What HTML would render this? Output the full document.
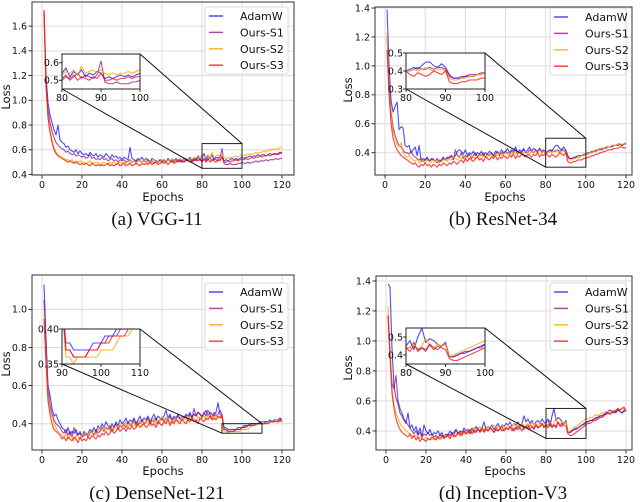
<!DOCTYPE html>
<html><head><meta charset="utf-8">
<style>
html,body{margin:0;padding:0;background:#fff;}
svg{display:block;}
text{font-family:"DejaVu Sans","Liberation Sans",sans-serif;}
.cap{font-family:"Liberation Serif","DejaVu Serif",serif;font-size:19px;}
</style></head>
<body>
<svg id="fig" width="640" height="502" viewBox="0 0 640 502" xmlns="http://www.w3.org/2000/svg"></svg>
<script>
// ---------- data (epochs 1..120) ----------
const epochs = Array.from({length:120},(_,i)=>i+1);
const seriesNames = ["AdamW","Ours-S1","Ours-S2","Ours-S3"];
const xTicks = [0,20,40,60,80,100,120];

const vggAdamW = [1.72,1.20,0.98,0.88,0.82,0.76,0.72,0.80,0.68,0.66,0.65,0.62,0.63,0.60,0.59,0.58,0.60,0.57,0.59,0.57,0.56,0.57,0.55,0.58,0.56,0.55,0.57,0.54,0.56,0.55,0.54,0.57,0.55,0.53,0.56,0.54,0.55,0.53,0.54,0.52,0.54,0.53,0.52,0.62,0.53,0.52,0.51,0.53,0.52,0.54,0.51,0.53,0.52,0.50,0.53,0.52,0.51,0.50,0.52,0.51,0.52,0.50,0.53,0.51,0.52,0.50,0.53,0.51,0.52,0.50,0.53,0.51,0.52,0.54,0.51,0.53,0.52,0.55,0.52,0.54,0.57,0.52,0.55,0.53,0.56,0.52,0.54,0.53,0.55,0.54,0.51,0.52,0.51,0.52,0.53,0.52,0.53,0.52,0.53,0.54,0.53,0.54,0.54,0.55,0.54,0.55,0.55,0.56,0.55,0.56,0.56,0.55,0.56,0.57,0.56,0.57,0.56,0.57,0.58,0.57];
const vggS1 = [1.70,1.15,0.92,0.82,0.75,0.70,0.66,0.64,0.62,0.61,0.60,0.58,0.59,0.57,0.56,0.57,0.55,0.56,0.55,0.54,0.55,0.53,0.54,0.56,0.53,0.54,0.52,0.53,0.52,0.54,0.52,0.53,0.51,0.52,0.53,0.51,0.52,0.50,0.52,0.51,0.52,0.50,0.51,0.52,0.50,0.51,0.50,0.52,0.51,0.50,0.51,0.50,0.52,0.50,0.51,0.49,0.51,0.50,0.52,0.50,0.51,0.50,0.52,0.51,0.50,0.52,0.51,0.50,0.52,0.51,0.50,0.52,0.51,0.53,0.50,0.52,0.51,0.53,0.52,0.51,0.53,0.50,0.52,0.54,0.51,0.53,0.52,0.51,0.53,0.61,0.49,0.48,0.48,0.49,0.48,0.48,0.48,0.49,0.49,0.50,0.49,0.49,0.50,0.49,0.50,0.50,0.51,0.50,0.51,0.51,0.51,0.52,0.51,0.52,0.52,0.52,0.53,0.52,0.53,0.53];
const vggS2 = [1.68,1.10,0.88,0.76,0.68,0.62,0.58,0.56,0.55,0.54,0.53,0.52,0.52,0.51,0.52,0.50,0.51,0.50,0.51,0.50,0.50,0.49,0.50,0.51,0.49,0.50,0.49,0.50,0.48,0.49,0.50,0.49,0.48,0.50,0.49,0.50,0.48,0.49,0.50,0.49,0.50,0.49,0.51,0.49,0.50,0.51,0.49,0.50,0.52,0.50,0.51,0.50,0.49,0.51,0.50,0.52,0.50,0.51,0.50,0.52,0.51,0.50,0.52,0.51,0.53,0.50,0.52,0.51,0.53,0.52,0.52,0.53,0.51,0.53,0.52,0.54,0.53,0.52,0.55,0.53,0.55,0.54,0.56,0.53,0.58,0.54,0.55,0.56,0.54,0.56,0.54,0.53,0.54,0.53,0.54,0.54,0.55,0.54,0.55,0.56,0.55,0.56,0.56,0.57,0.56,0.57,0.58,0.57,0.58,0.58,0.59,0.58,0.60,0.59,0.61,0.60,0.61,0.60,0.62,0.62];
const vggS3 = [1.73,1.12,0.86,0.74,0.66,0.60,0.57,0.55,0.54,0.53,0.52,0.51,0.50,0.51,0.50,0.49,0.50,0.49,0.48,0.49,0.48,0.49,0.48,0.47,0.49,0.48,0.47,0.48,0.47,0.48,0.47,0.48,0.49,0.47,0.48,0.47,0.48,0.49,0.47,0.48,0.49,0.47,0.48,0.49,0.47,0.48,0.49,0.48,0.47,0.49,0.48,0.49,0.48,0.50,0.48,0.49,0.50,0.48,0.49,0.50,0.49,0.50,0.48,0.50,0.51,0.49,0.50,0.52,0.50,0.51,0.50,0.52,0.51,0.50,0.52,0.51,0.53,0.51,0.52,0.50,0.52,0.51,0.53,0.50,0.52,0.51,0.50,0.52,0.51,0.54,0.50,0.50,0.51,0.50,0.51,0.51,0.52,0.51,0.52,0.52,0.52,0.53,0.52,0.53,0.54,0.53,0.54,0.54,0.55,0.54,0.55,0.55,0.56,0.55,0.56,0.56,0.57,0.56,0.57,0.58];

const resAdamW = [1.39,1.00,0.76,0.68,0.72,0.75,0.56,0.58,0.57,0.45,0.44,0.45,0.40,0.42,0.44,0.38,0.45,0.34,0.36,0.35,0.37,0.34,0.36,0.35,0.34,0.36,0.33,0.35,0.37,0.35,0.36,0.37,0.38,0.36,0.38,0.41,0.42,0.41,0.39,0.42,0.38,0.40,0.39,0.41,0.38,0.40,0.39,0.41,0.38,0.40,0.39,0.41,0.40,0.38,0.41,0.40,0.39,0.42,0.40,0.41,0.43,0.40,0.42,0.41,0.44,0.40,0.42,0.41,0.43,0.40,0.42,0.44,0.41,0.43,0.42,0.40,0.43,0.41,0.42,0.40,0.41,0.42,0.41,0.43,0.45,0.45,0.43,0.42,0.44,0.42,0.38,0.36,0.36,0.36,0.37,0.37,0.37,0.38,0.38,0.39,0.39,0.40,0.40,0.41,0.41,0.42,0.42,0.42,0.43,0.43,0.44,0.44,0.44,0.45,0.45,0.45,0.46,0.45,0.46,0.46];
const resS1 = [1.20,0.88,0.68,0.58,0.52,0.48,0.45,0.44,0.42,0.40,0.40,0.39,0.41,0.38,0.37,0.36,0.35,0.36,0.34,0.35,0.36,0.34,0.35,0.36,0.34,0.33,0.35,0.34,0.36,0.35,0.37,0.36,0.38,0.35,0.42,0.38,0.37,0.40,0.36,0.38,0.37,0.39,0.36,0.38,0.40,0.37,0.39,0.38,0.40,0.37,0.39,0.38,0.40,0.37,0.39,0.41,0.38,0.40,0.39,0.41,0.40,0.39,0.41,0.40,0.42,0.39,0.41,0.40,0.42,0.41,0.40,0.42,0.41,0.40,0.42,0.41,0.43,0.40,0.41,0.40,0.40,0.41,0.42,0.41,0.41,0.42,0.41,0.42,0.42,0.41,0.37,0.36,0.36,0.37,0.37,0.38,0.38,0.38,0.39,0.39,0.40,0.40,0.41,0.41,0.42,0.42,0.43,0.43,0.43,0.44,0.44,0.44,0.45,0.45,0.45,0.46,0.46,0.45,0.46,0.47];
const resS2 = [1.23,0.85,0.65,0.55,0.50,0.46,0.44,0.47,0.40,0.38,0.37,0.38,0.36,0.35,0.34,0.36,0.33,0.35,0.34,0.33,0.35,0.34,0.33,0.35,0.34,0.35,0.33,0.34,0.35,0.36,0.34,0.36,0.35,0.37,0.36,0.35,0.37,0.36,0.38,0.36,0.37,0.36,0.38,0.37,0.36,0.38,0.37,0.39,0.37,0.38,0.37,0.39,0.38,0.37,0.39,0.38,0.40,0.38,0.39,0.40,0.39,0.40,0.38,0.41,0.39,0.40,0.41,0.39,0.40,0.41,0.40,0.39,0.41,0.40,0.41,0.40,0.42,0.40,0.41,0.40,0.40,0.41,0.40,0.41,0.42,0.41,0.40,0.41,0.41,0.40,0.36,0.35,0.35,0.36,0.36,0.37,0.37,0.38,0.38,0.39,0.39,0.40,0.40,0.41,0.42,0.42,0.43,0.43,0.43,0.44,0.44,0.44,0.45,0.45,0.45,0.46,0.45,0.46,0.46,0.47];
const resS3 = [1.11,0.80,0.60,0.50,0.45,0.42,0.40,0.38,0.37,0.36,0.35,0.34,0.33,0.32,0.33,0.31,0.30,0.32,0.31,0.33,0.31,0.32,0.30,0.32,0.31,0.30,0.32,0.31,0.33,0.32,0.31,0.33,0.32,0.34,0.33,0.32,0.34,0.35,0.33,0.36,0.34,0.36,0.35,0.34,0.36,0.37,0.35,0.36,0.34,0.37,0.36,0.35,0.37,0.36,0.38,0.35,0.37,0.36,0.38,0.37,0.36,0.38,0.37,0.39,0.36,0.38,0.37,0.39,0.38,0.37,0.39,0.38,0.37,0.39,0.38,0.40,0.37,0.39,0.38,0.40,0.38,0.37,0.39,0.38,0.37,0.38,0.40,0.39,0.38,0.40,0.34,0.33,0.33,0.34,0.34,0.35,0.35,0.35,0.36,0.36,0.37,0.37,0.38,0.38,0.39,0.39,0.40,0.40,0.41,0.41,0.42,0.42,0.42,0.43,0.43,0.43,0.44,0.44,0.43,0.44];

const denAdamW = [1.13,0.85,0.60,0.55,0.48,0.44,0.45,0.42,0.40,0.38,0.37,0.35,0.38,0.34,0.36,0.35,0.37,0.34,0.35,0.33,0.36,0.34,0.35,0.37,0.36,0.38,0.35,0.39,0.37,0.40,0.38,0.41,0.39,0.37,0.40,0.38,0.41,0.39,0.42,0.40,0.41,0.43,0.40,0.42,0.41,0.43,0.40,0.42,0.44,0.41,0.43,0.42,0.44,0.41,0.43,0.45,0.42,0.44,0.43,0.42,0.44,0.47,0.43,0.45,0.42,0.44,0.43,0.45,0.42,0.44,0.43,0.45,0.44,0.46,0.43,0.45,0.44,0.46,0.45,0.44,0.45,0.47,0.44,0.46,0.45,0.44,0.46,0.51,0.45,0.44,0.38,0.38,0.37,0.37,0.37,0.37,0.37,0.38,0.38,0.38,0.39,0.39,0.39,0.40,0.40,0.40,0.40,0.40,0.41,0.41,0.41,0.41,0.41,0.42,0.41,0.42,0.42,0.42,0.43,0.42];
const denS1 = [1.05,0.80,0.58,0.50,0.45,0.42,0.40,0.39,0.38,0.36,0.35,0.37,0.34,0.36,0.33,0.38,0.35,0.34,0.36,0.33,0.34,0.35,0.33,0.35,0.36,0.34,0.37,0.35,0.36,0.38,0.36,0.38,0.37,0.39,0.36,0.38,0.40,0.37,0.39,0.38,0.40,0.38,0.41,0.39,0.40,0.42,0.39,0.41,0.40,0.42,0.40,0.41,0.43,0.40,0.42,0.41,0.43,0.40,0.42,0.43,0.41,0.43,0.42,0.44,0.41,0.43,0.42,0.44,0.43,0.42,0.43,0.44,0.42,0.45,0.43,0.48,0.44,0.46,0.45,0.43,0.46,0.44,0.47,0.45,0.43,0.46,0.44,0.45,0.47,0.45,0.37,0.37,0.36,0.36,0.36,0.36,0.37,0.37,0.37,0.38,0.38,0.39,0.39,0.39,0.40,0.40,0.40,0.40,0.40,0.40,0.40,0.41,0.41,0.41,0.41,0.41,0.42,0.41,0.42,0.42];
const denS2 = [0.98,0.75,0.55,0.47,0.44,0.40,0.38,0.36,0.35,0.34,0.33,0.35,0.32,0.34,0.33,0.31,0.34,0.33,0.32,0.34,0.33,0.35,0.34,0.36,0.35,0.37,0.34,0.36,0.38,0.36,0.38,0.37,0.39,0.36,0.38,0.37,0.39,0.38,0.40,0.38,0.39,0.41,0.38,0.40,0.39,0.41,0.38,0.40,0.42,0.39,0.41,0.40,0.42,0.39,0.41,0.43,0.40,0.42,0.41,0.44,0.42,0.41,0.43,0.40,0.42,0.41,0.43,0.41,0.42,0.44,0.42,0.43,0.41,0.44,0.42,0.43,0.41,0.44,0.42,0.43,0.44,0.42,0.45,0.43,0.44,0.42,0.45,0.43,0.44,0.43,0.36,0.36,0.35,0.36,0.36,0.36,0.36,0.36,0.36,0.37,0.37,0.37,0.37,0.38,0.39,0.39,0.39,0.40,0.40,0.40,0.40,0.40,0.41,0.41,0.41,0.41,0.42,0.41,0.41,0.42];
const denS3 = [0.95,0.72,0.52,0.45,0.40,0.37,0.36,0.35,0.34,0.32,0.33,0.31,0.33,0.32,0.31,0.33,0.32,0.30,0.33,0.31,0.32,0.31,0.33,0.32,0.34,0.33,0.32,0.34,0.33,0.35,0.34,0.36,0.34,0.35,0.37,0.35,0.36,0.38,0.36,0.37,0.38,0.36,0.38,0.37,0.39,0.37,0.38,0.40,0.38,0.39,0.40,0.38,0.39,0.41,0.39,0.40,0.38,0.41,0.40,0.39,0.41,0.40,0.42,0.39,0.41,0.40,0.42,0.41,0.40,0.42,0.41,0.40,0.42,0.41,0.43,0.41,0.42,0.40,0.43,0.42,0.41,0.43,0.42,0.44,0.42,0.43,0.42,0.44,0.43,0.44,0.37,0.37,0.36,0.36,0.36,0.36,0.37,0.37,0.37,0.38,0.38,0.38,0.39,0.39,0.39,0.39,0.40,0.40,0.40,0.40,0.40,0.40,0.40,0.41,0.41,0.41,0.41,0.41,0.42,0.41];

const incAdamW = [1.38,1.36,0.95,0.70,0.62,0.58,0.52,0.50,0.47,0.45,0.52,0.42,0.44,0.40,0.43,0.38,0.42,0.36,0.44,0.40,0.38,0.41,0.37,0.39,0.38,0.40,0.37,0.39,0.35,0.38,0.37,0.40,0.38,0.39,0.41,0.38,0.40,0.39,0.42,0.40,0.41,0.39,0.42,0.40,0.43,0.41,0.40,0.42,0.46,0.41,0.43,0.42,0.44,0.41,0.43,0.45,0.42,0.44,0.43,0.45,0.44,0.46,0.43,0.45,0.44,0.46,0.43,0.45,0.50,0.46,0.48,0.45,0.47,0.44,0.46,0.47,0.45,0.48,0.46,0.45,0.48,0.43,0.50,0.55,0.47,0.49,0.48,0.46,0.45,0.47,0.39,0.39,0.40,0.41,0.41,0.42,0.43,0.44,0.45,0.46,0.46,0.47,0.47,0.48,0.49,0.49,0.50,0.50,0.51,0.52,0.53,0.54,0.53,0.52,0.53,0.54,0.53,0.52,0.54,0.53];
const incS1 = [1.17,0.92,0.72,0.68,0.77,0.60,0.55,0.52,0.48,0.46,0.44,0.42,0.40,0.38,0.40,0.37,0.39,0.36,0.38,0.37,0.39,0.37,0.38,0.36,0.37,0.35,0.38,0.36,0.37,0.36,0.38,0.37,0.39,0.37,0.41,0.38,0.39,0.37,0.40,0.38,0.40,0.38,0.41,0.39,0.40,0.42,0.39,0.41,0.40,0.42,0.40,0.42,0.41,0.39,0.41,0.40,0.42,0.40,0.41,0.42,0.41,0.43,0.42,0.40,0.43,0.41,0.42,0.44,0.41,0.43,0.42,0.44,0.43,0.41,0.44,0.42,0.43,0.45,0.43,0.44,0.44,0.47,0.42,0.44,0.43,0.46,0.44,0.43,0.45,0.46,0.39,0.39,0.40,0.41,0.42,0.42,0.43,0.44,0.44,0.46,0.46,0.47,0.47,0.48,0.48,0.49,0.50,0.50,0.51,0.51,0.52,0.52,0.53,0.53,0.52,0.54,0.53,0.52,0.53,0.54];
const incS2 = [1.23,0.95,0.68,0.58,0.52,0.48,0.45,0.43,0.42,0.40,0.39,0.38,0.37,0.36,0.37,0.35,0.36,0.35,0.34,0.36,0.35,0.34,0.35,0.34,0.36,0.35,0.34,0.35,0.36,0.37,0.36,0.35,0.37,0.38,0.36,0.38,0.37,0.39,0.38,0.40,0.39,0.41,0.40,0.42,0.39,0.41,0.43,0.40,0.42,0.41,0.43,0.41,0.42,0.44,0.41,0.43,0.42,0.44,0.43,0.42,0.44,0.42,0.43,0.45,0.43,0.44,0.42,0.45,0.43,0.44,0.45,0.43,0.46,0.44,0.45,0.43,0.46,0.44,0.45,0.44,0.44,0.46,0.43,0.45,0.49,0.45,0.44,0.46,0.45,0.46,0.39,0.40,0.41,0.42,0.43,0.44,0.45,0.46,0.47,0.48,0.48,0.49,0.49,0.50,0.51,0.50,0.51,0.52,0.52,0.53,0.53,0.52,0.54,0.53,0.54,0.55,0.54,0.55,0.55,0.53];
const incS3 = [1.17,0.90,0.65,0.55,0.48,0.44,0.41,0.39,0.38,0.37,0.36,0.38,0.35,0.37,0.34,0.36,0.33,0.35,0.34,0.33,0.35,0.34,0.36,0.35,0.34,0.36,0.35,0.37,0.35,0.36,0.37,0.35,0.38,0.36,0.37,0.39,0.37,0.38,0.40,0.38,0.39,0.41,0.38,0.40,0.39,0.41,0.40,0.42,0.39,0.41,0.40,0.42,0.41,0.39,0.42,0.40,0.41,0.43,0.40,0.42,0.41,0.43,0.40,0.42,0.41,0.43,0.42,0.40,0.43,0.42,0.44,0.41,0.43,0.42,0.44,0.42,0.43,0.45,0.42,0.44,0.42,0.45,0.43,0.44,0.42,0.46,0.43,0.45,0.44,0.43,0.38,0.37,0.37,0.38,0.39,0.40,0.41,0.42,0.43,0.44,0.45,0.45,0.46,0.47,0.47,0.48,0.49,0.49,0.50,0.51,0.52,0.51,0.52,0.53,0.54,0.55,0.54,0.55,0.56,0.53];

const yTicksA = [0.4,0.6,0.8,1.0,1.2,1.4,1.6];
const yTicksB = [0.4,0.6,0.8,1.0,1.2,1.4];
const yTicksC = [0.4,0.6,0.8,1.0];
const yTicksD = [0.4,0.6,0.8,1.0,1.2,1.4];
const insetYTicksA = [0.5,0.6];
const insetYTicksB = [0.3,0.4,0.5];
const insetYTicksC = [0.35,0.40];
const insetYTicksD = [0.4,0.5];
const insetXTicksA = [80,90,100];
const insetXTicksC = [90,100,110];

// ---------- layout ----------
const colors = ["rgba(0,0,255,0.7)","rgba(128,0,128,0.7)","rgba(255,165,0,0.8)","rgba(255,0,0,0.75)"];
const panels = [
 {id:"vgg",cap:"(a) VGG-11",series:[vggAdamW,vggS1,vggS2,vggS3],box:[32,2,294,175],xl:[-5,126],yl:[0.396,1.795],yt:yTicksA,dec:1,
  inset:{box:[62,54,140,89],xl:[80,100],yl:[0.45,0.65],yt:insetYTicksA,xt:insetXTicksA,dec:1},leg:[205,7],xlab:[163,201],ylab:[10,97],capPos:[157,225]},
 {id:"resnet",cap:"(b) ResNet-34",series:[resAdamW,resS1,resS2,resS3],box:[375,7,632,175],xl:[-5,123],yl:[0.246,1.407],yt:yTicksB,dec:1,
  inset:{box:[406,53,485,89],xl:[80,100],yl:[0.3,0.5],yt:insetYTicksB,xt:insetXTicksA,dec:1},leg:[550,8],xlab:[505,201],ylab:[352,90],capPos:[503,225]},
 {id:"densenet",cap:"(c) DenseNet-121",series:[denAdamW,denS1,denS2,denS3],box:[32,275,294,450],xl:[-5,126],yl:[0.262,1.18],yt:yTicksC,dec:1,
  inset:{box:[62,329,140,364],xl:[90,110],yl:[0.35,0.40],yt:insetYTicksC,xt:insetXTicksC,dec:2},leg:[205,283],xlab:[163,475],ylab:[10,364],capPos:[157,499]},
 {id:"inception",cap:"(d) Inception-V3",series:[incAdamW,incS1,incS2,incS3],box:[376,276,632,450],xl:[-5,123],yl:[0.273,1.433],yt:yTicksD,dec:1,
  inset:{box:[406,328,485,364],xl:[80,100],yl:[0.35,0.55],yt:insetYTicksD,xt:insetXTicksA,dec:1},leg:[550,283],xlab:[505,475],ylab:[352,368],capPos:[503,499]}
];

const NS="http://www.w3.org/2000/svg";
const svg=document.getElementById('fig');
function mk(tag,attrs,parent,txt){const e=document.createElementNS(NS,tag);for(const k in attrs)e.setAttribute(k,attrs[k]);if(txt!==undefined)e.textContent=txt;(parent||svg).appendChild(e);return e;}
function scale(d0,d1,r0,r1){return v=>r0+(v-d0)/(d1-d0)*(r1-r0);}
const defs=mk('defs',{});

panels.forEach((p,pi)=>{
  const g=mk('g',{});
  
  
  const [l,t,r,b]=p.box;
  const sx=scale(p.xl[0],p.xl[1],l,r), sy=scale(p.yl[0],p.yl[1],b,t);
  xTicks.forEach(v=>{const x=sx(v);
    mk('line',{x1:x,x2:x,y1:t,y2:b,stroke:'#dcdcdc','stroke-width':1},g);
    mk('line',{x1:x,x2:x,y1:b,y2:b+3.5,stroke:'#000','stroke-width':0.8},g);
    const tl=mk('text',{x:x,y:b+13,'font-size':9.5,'text-anchor':'middle',fill:'#111'},g,String(v));
    
    
  });
  p.yt.forEach(v=>{const y=sy(v);
    mk('line',{x1:l,x2:r,y1:y,y2:y,stroke:'#dcdcdc','stroke-width':1},g);
    mk('line',{x1:l-3.5,x2:l,y1:y,y2:y,stroke:'#000','stroke-width':0.8},g);
    const tl=mk('text',{x:l-5,y:y+3.4,'font-size':9.5,'text-anchor':'end',fill:'#111'},g,v.toFixed(1));
    
    
  });
  const cid='clip'+pi;
  const cp=mk('clipPath',{id:cid},defs); mk('rect',{x:l,y:t,width:r-l,height:b-t},cp);
  const lines=mk('g',{'clip-path':`url(#${cid})`},g);
  p.series.forEach((s,si)=>{
    const d=s.map((v,i)=>(i?'L':'M')+sx(epochs[i]).toFixed(2)+','+sy(v).toFixed(2)).join('');
    const pl=mk('path',{d:d,fill:'none',stroke:colors[si],'stroke-width':1.1,'stroke-linejoin':'round'},lines);
    
    
  });
  const frame=mk('rect',{x:l,y:t,width:r-l,height:b-t,fill:'none',stroke:'#333','stroke-width':1},g);
  
  
  const ins=p.inset; const [il,it,ir,ib]=ins.box;
  const zx0=sx(ins.xl[0]),zx1=sx(ins.xl[1]),zy0=sy(ins.yl[0]),zy1=sy(ins.yl[1]);
  const zr=mk('rect',{x:zx0,y:zy1,width:zx1-zx0,height:zy0-zy1,fill:'none',stroke:'#222','stroke-width':1},g);
  
  
  mk('line',{x1:ir,y1:it,x2:zx1,y2:zy1,stroke:'#111','stroke-width':1},g);
  mk('line',{x1:il,y1:ib,x2:zx0,y2:zy0,stroke:'#111','stroke-width':1},g);
  const ig=mk('g',{},g);
  
  
  mk('rect',{x:il,y:it,width:ir-il,height:ib-it,fill:'#fff'},ig);
  const isx=scale(ins.xl[0],ins.xl[1],il,ir), isy=scale(ins.yl[0],ins.yl[1],ib,it);
  const icid='iclip'+pi;
  const icp=mk('clipPath',{id:icid},defs); mk('rect',{x:il,y:it,width:ir-il,height:ib-it},icp);
  const il2=mk('g',{'clip-path':`url(#${icid})`},ig);
  p.series.forEach((s,si)=>{
    const d=s.map((v,i)=>(i?'L':'M')+isx(epochs[i]).toFixed(2)+','+isy(v).toFixed(2)).join('');
    const pl=mk('path',{d:d,fill:'none',stroke:colors[si],'stroke-width':1.1},il2);
    
    
  });
  mk('rect',{x:il,y:it,width:ir-il,height:ib-it,fill:'none',stroke:'#222','stroke-width':1},ig);
  ins.xt.forEach(v=>{const x=isx(v);
    mk('line',{x1:x,x2:x,y1:ib,y2:ib+3,stroke:'#000','stroke-width':0.8},ig);
    mk('text',{x:x,y:ib+12,'font-size':9.5,'text-anchor':'middle',fill:'#111'},ig,String(v));
  });
  ins.yt.forEach(v=>{const y=isy(v);
    mk('line',{x1:il-3,x2:il,y1:y,y2:y,stroke:'#000','stroke-width':0.8},ig);
    mk('text',{x:il-3,y:y+3.4,'font-size':9.5,'text-anchor':'end',fill:'#111'},ig,v.toFixed(ins.dec));
  });
  const [lx,ly]=p.leg;
  const lg=mk('g',{},g);
  
  
  mk('rect',{x:lx,y:ly,width:r-lx-6,height:67,rx:2.5,fill:'rgba(255,255,255,0.85)',stroke:'#d0d0d0','stroke-width':0.8},lg);
  seriesNames.forEach((n,si)=>{const y=ly+9+si*16.4;
    const e=mk('g',{},lg);
    
    
    mk('line',{x1:lx+4,x2:lx+18,y1:y,y2:y,stroke:colors[si],'stroke-width':1.5},e);
    mk('text',{x:lx+35,y:y+4,'font-size':11,fill:'#111'},e,n);
  });
  const xl=mk('text',{x:p.xlab[0],y:p.xlab[1],'font-size':11.5,'text-anchor':'middle',fill:'#111'},g,'Epochs');
  
  
  const yl=mk('text',{x:p.ylab[0],y:p.ylab[1],'font-size':11.5,'text-anchor':'middle',fill:'#111',transform:`rotate(-90 ${p.ylab[0]} ${p.ylab[1]})`},g,'Loss');
  
  
  const cap=mk('text',{x:p.capPos[0],y:p.capPos[1],'text-anchor':'middle',fill:'#111',class:'cap'},g,p.cap);
  
  
});
</script>
</body></html>
